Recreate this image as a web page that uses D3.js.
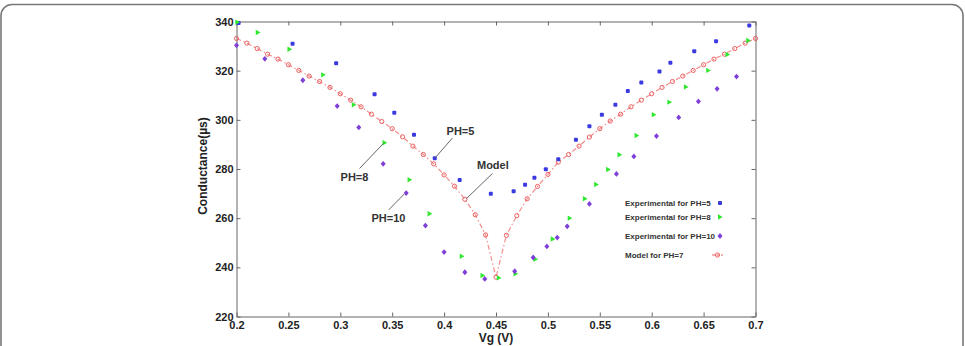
<!DOCTYPE html>
<html>
<head>
<meta charset="utf-8">
<script src="https://cdn.jsdelivr.net/npm/d3@7"></script>
<style>
  html, body { margin: 0; padding: 0; background: #fff; }
  svg { display: block; font-family: "Liberation Sans", Arial, sans-serif; }
</style>
</head>
<body>
<svg id="chart" width="965" height="346"></svg>
<script>
// tick labels
const xTicks = [0.2, 0.25, 0.3, 0.35, 0.4, 0.45, 0.5, 0.55, 0.6, 0.65, 0.7];
const yTicks = [220, 240, 260, 280, 300, 320, 340];

// experimental PH=5
const ph5Vg = [0.202, 0.254, 0.296, 0.333, 0.352, 0.371, 0.391, 0.415, 0.445, 0.467, 0.478, 0.487, 0.498, 0.510,
  0.527, 0.540, 0.552, 0.565, 0.577, 0.590, 0.6075, 0.618, 0.641, 0.662, 0.694];
const ph5G = [339.4, 331, 323, 310.4, 302.9, 293.9, 284.4, 275.5, 269.9, 271, 273.6, 276.4, 279.9, 284,
  291.9, 297.4, 302.1, 306.1, 311.7, 315.2, 319.7, 323.2, 327.9, 332, 338.4];

// experimental PH=8
const ph8Vg = [0.2007, 0.2205, 0.251, 0.2835, 0.313, 0.3426, 0.3667, 0.386, 0.417, 0.437, 0.4527, 0.4688, 0.488,
  0.5047, 0.521, 0.5356, 0.5465, 0.558, 0.569, 0.5854, 0.602, 0.617, 0.633, 0.6544, 0.673, 0.693];
const ph8G = [339.7, 335.5, 328.7, 318.3, 306.1, 290.7, 275.6, 261.8, 244.5, 236.7, 235.7, 237.4, 243.3,
  251.5, 260, 267.9, 273.7, 279.8, 285.8, 293.6, 302.1, 307.2, 313.4, 320.1, 326.6, 332.3];

// experimental PH=10
const ph10Vg = [0.2, 0.2273, 0.2639, 0.297, 0.3178, 0.3413, 0.3635, 0.382, 0.4, 0.42, 0.4392, 0.468, 0.4858,
  0.499, 0.509, 0.5186, 0.54, 0.566, 0.5828, 0.6046, 0.626, 0.645, 0.663, 0.6817];
const ph10G = [330.3, 324.8, 316.1, 305.6, 296.9, 282.1, 270.2, 257, 246.2, 238, 235.3, 238.4, 244,
  248.5, 252.1, 256.7, 265.8, 278, 285.1, 293.4, 301, 307.5, 312.6, 317.6];

// model PH=7
const modelVg = [0.20, 0.21, 0.22, 0.23, 0.24, 0.25, 0.26, 0.27, 0.28, 0.29, 0.30, 0.31, 0.32, 0.33, 0.34,
  0.35, 0.36, 0.37, 0.38, 0.39, 0.40, 0.41, 0.42, 0.43, 0.44, 0.45, 0.46, 0.47, 0.48, 0.49, 0.50, 0.51,
  0.52, 0.53, 0.54, 0.55, 0.56, 0.57, 0.58, 0.59, 0.60, 0.61, 0.62, 0.63, 0.64, 0.65, 0.66, 0.67, 0.68,
  0.69, 0.70];
const modelG = [333.1, 331.2, 329, 326.7, 324.7, 322.4, 320.1, 317.8, 315.6, 313.2, 310.6, 308, 305.3, 302.3, 299.3,
  296.4, 293.1, 289.3, 285.9, 282.1, 277.6, 273, 267.7, 261.4, 253.2, 236, 253, 261, 267.9, 272.9, 277.8, 282.8,
  285.9, 289.3, 293, 296.4, 299.5, 302.3, 305.3, 308, 310.6, 313.2, 315.6, 317.8, 320.1, 322.4, 324.7, 326.7, 329,
  331.2, 333.1];

const legendLabels = ['Experimental for PH=5', 'Experimental for PH=8', 'Experimental for PH=10', 'Model for PH=7'];
const noteLabels = ['PH=5', 'PH=8', 'PH=10', 'Model'];

const blue = '#3a3ae0';
const green = '#2ee82e';
const purple = '#7d3fd6';
const red = '#ec6060';
const axisColor = '#666';

const svg = d3.select('#chart');

// rounded outer frame
svg.append('rect')
  .attr('x', 1).attr('y', 4.5)
  .attr('width', 962).attr('height', 380)
  .attr('rx', 11)
  .attr('fill', 'none')
  .attr('stroke', '#777')
  .attr('stroke-width', 1.6);

const x = d3.scaleLinear().domain([0.2, 0.7]).range([236.5, 755.5]);
const y = d3.scaleLinear().domain([220, 340]).range([316.5, 21.5]);

const fmt = (d) => String(+d.toFixed(2));

const styleAxis = (g) => {
  g.select('.domain').attr('stroke', axisColor);
  g.selectAll('.tick line').attr('stroke', axisColor);
  g.selectAll('.tick text')
    .attr('fill', '#222')
    .attr('font-size', 11)
    .attr('font-weight', 'bold');
};

svg.append('g')
  .attr('transform', `translate(0,${y(220)})`)
  .call(d3.axisBottom(x).tickValues(xTicks).tickFormat(fmt).tickSizeInner(-4).tickSizeOuter(0).tickPadding(5))
  .call(styleAxis);

svg.append('g')
  .attr('transform', `translate(0,${y(340)})`)
  .call(d3.axisTop(x).tickValues(xTicks).tickFormat('').tickSizeInner(-4).tickSizeOuter(0))
  .call(styleAxis);

svg.append('g')
  .attr('transform', `translate(${x(0.2)},0)`)
  .call(d3.axisLeft(y).tickValues(yTicks).tickFormat(d3.format('d')).tickSizeInner(-4).tickSizeOuter(0).tickPadding(3))
  .call(styleAxis);

svg.append('g')
  .attr('transform', `translate(${x(0.7)},0)`)
  .call(d3.axisRight(y).tickValues(yTicks).tickFormat('').tickSizeInner(-4).tickSizeOuter(0))
  .call(styleAxis);

// axis titles
svg.append('text')
  .attr('x', (x(0.2) + x(0.7)) / 2).attr('y', 342)
  .attr('text-anchor', 'middle')
  .attr('font-size', 12).attr('font-weight', 'bold').attr('fill', '#222')
  .text('Vg (V)');

svg.append('text')
  .attr('transform', `translate(207,${(y(220) + y(340)) / 2 - 3}) rotate(-90)`)
  .attr('text-anchor', 'middle')
  .attr('font-size', 12).attr('font-weight', 'bold').attr('fill', '#222')
  .text('Conductance(µs)');

// marker painters
const drawSquare = (g, cx, cy) => g.append('rect')
  .attr('x', cx - 2).attr('y', cy - 2).attr('width', 4).attr('height', 4)
  .attr('rx', 1).attr('fill', blue);

const drawTriangle = (g, cx, cy) => g.append('path')
  .attr('d', `M${cx - 2},${cy - 2.7}L${cx + 2.7},${cy}L${cx - 2},${cy + 2.7}Z`)
  .attr('fill', green);

const drawDiamond = (g, cx, cy) => g.append('path')
  .attr('d', `M${cx},${cy - 2.9}L${cx + 2.5},${cy}L${cx},${cy + 2.9}L${cx - 2.5},${cy}Z`)
  .attr('fill', purple);

const drawRing = (g, cx, cy) => g.append('circle')
  .attr('cx', cx).attr('cy', cy).attr('r', 2.1)
  .attr('fill', 'none').attr('stroke', red).attr('stroke-width', 1);

// model line
const modelPts = modelVg.map((v, i) => [v, modelG[i]]);
svg.append('path')
  .datum(modelPts)
  .attr('d', d3.line().x((d) => x(d[0])).y((d) => y(d[1])))
  .attr('fill', 'none')
  .attr('stroke', red)
  .attr('stroke-opacity', 0.7)
  .attr('stroke-width', 1.2)
  .attr('stroke-dasharray', '5,2.5,1.5,2.5');

const marks = svg.append('g');
modelPts.forEach((d) => drawRing(marks, x(d[0]), y(d[1])));
ph5Vg.forEach((v, i) => drawSquare(marks, x(v), y(ph5G[i])));
ph8Vg.forEach((v, i) => drawTriangle(marks, x(v), y(ph8G[i])));
ph10Vg.forEach((v, i) => drawDiamond(marks, x(v), y(ph10G[i])));

// annotations: text position and leader line, in data units
const notes = [
  { label: noteLabels[0], tx: 0.4158, ty: 295.3, from: [0.408, 292.6], to: [0.3915, 284.6] },
  { label: noteLabels[1], tx: 0.3137, ty: 276.5, from: [0.3185, 280.2], to: [0.3416, 290.4] },
  { label: noteLabels[2], tx: 0.3464, ty: 259.9, from: [0.3467, 263.4], to: [0.3618, 269.9] },
  { label: noteLabels[3], tx: 0.447, ty: 281.4, from: [0.4466, 278.2], to: [0.4216, 268] },
];
const noteG = svg.append('g');
notes.forEach((n) => {
  noteG.append('line')
    .attr('x1', x(n.from[0])).attr('y1', y(n.from[1]))
    .attr('x2', x(n.to[0])).attr('y2', y(n.to[1]))
    .attr('stroke', '#666').attr('stroke-width', 1);
  noteG.append('text')
    .attr('x', x(n.tx)).attr('y', y(n.ty))
    .attr('dy', '0.35em')
    .attr('text-anchor', 'middle')
    .attr('font-size', 11).attr('font-weight', 'bold').attr('fill', '#333')
    .text(n.label);
});

// legend
const legendRows = [203, 217, 236, 255];
const legendPainters = [drawSquare, drawTriangle, drawDiamond, null];
const legend = svg.append('g');
legendLabels.forEach((label, i) => {
  legend.append('text')
    .attr('x', 625).attr('y', legendRows[i])
    .attr('dy', '0.35em')
    .attr('font-size', 8).attr('font-weight', 'bold').attr('fill', '#333')
    .text(label);
  if (legendPainters[i]) {
    legendPainters[i](legend, 720, legendRows[i]);
  } else {
    legend.append('line')
      .attr('x1', 712).attr('x2', 723)
      .attr('y1', legendRows[i]).attr('y2', legendRows[i])
      .attr('stroke', red).attr('stroke-width', 1)
      .attr('stroke-dasharray', '3,1.5');
    drawRing(legend, 717.5, legendRows[i]);
  }
});
</script>
</body>
</html>
